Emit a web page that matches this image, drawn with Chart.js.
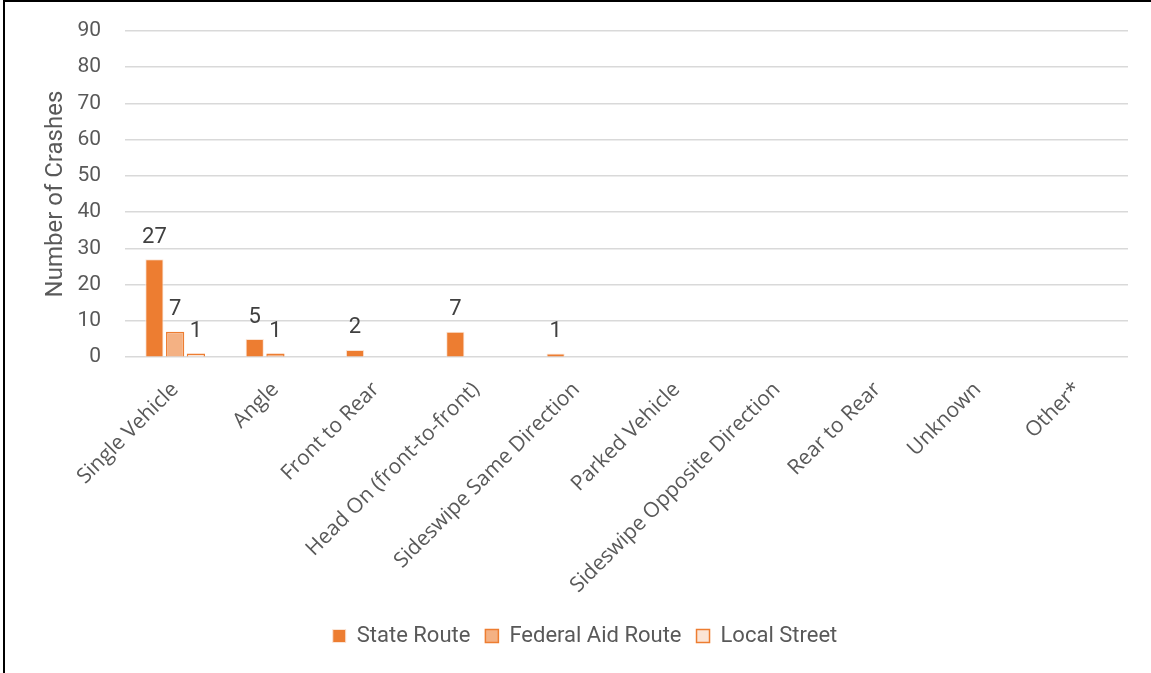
<!DOCTYPE html>
<html>
<head>
<meta charset="utf-8">
<script src="https://cdn.jsdelivr.net/npm/chart.js@4.4.0/dist/chart.umd.min.js"></script>
<style>
    html, body { margin: 0; padding: 0; background: #fff; }
    #frame {
        position: absolute; left: 3px; top: 0px; width: 1148px; height: 673px;
        border-left: 2px solid #000; border-top: 2px solid #000; box-sizing: border-box;
    }
    #wrap { position: absolute; left: 0; top: 0; width: 1146px; height: 671px; }
</style>
</head>
<body>
<div id="frame"><div id="wrap"><canvas id="chart"></canvas></div></div>
<script>
// Datos del gráfico
const categories = ['Single Vehicle', 'Angle', 'Front to Rear', 'Head On (front-to-front)',
    'Sideswipe Same Direction', 'Parked Vehicle', 'Sideswipe Opposite Direction',
    'Rear to Rear', 'Unknown', 'Other*'];
const stateRoute = [27, 5, 2, 7, 1, 0, 0, 0, 0, 0];
const federalAidRoute = [7, 1, 0, 0, 0, 0, 0, 0, 0, 0];
const localStreet = [1, 0, 0, 0, 0, 0, 0, 0, 0, 0];
const yTicks = [0, 10, 20, 30, 40, 50, 60, 70, 80, 90];

const narrow = 'Roboto, sans-serif';

// Etiquetas de valor encima de las barras
const valueLabels = {
    id: 'valueLabels',
    afterDatasetsDraw(chart) {
        const ctx = chart.ctx;
        ctx.save();
        ctx.font = '22px ' + narrow;
        ctx.fillStyle = '#404040';
        ctx.textAlign = 'center';
        ctx.textBaseline = 'bottom';
        chart.data.datasets.forEach((ds, i) => {
            const meta = chart.getDatasetMeta(i);
            meta.data.forEach((bar, j) => {
                const v = ds.data[j];
                if (!v) return;
                ctx.fillText(String(v), bar.x, bar.y - 11);
            });
        });
        ctx.restore();
    }
};

const ctx = document.getElementById('chart').getContext('2d');
new Chart(ctx, {
    type: 'bar',
    data: {
        labels: categories,
        datasets: [
            {
                label: 'State Route',
                data: stateRoute,
                backgroundColor: '#ED7D31',
                borderColor: '#FBE5D6',
                borderWidth: 1,
                categoryPercentage: 0.62,
                barPercentage: 0.88
            },
            {
                label: 'Federal Aid Route',
                data: federalAidRoute,
                backgroundColor: '#F4B183',
                borderColor: '#ED7D31',
                borderWidth: 1.5,
                categoryPercentage: 0.62,
                barPercentage: 0.88
            },
            {
                label: 'Local Street',
                data: localStreet,
                backgroundColor: '#FBE5D6',
                borderColor: '#ED7D31',
                borderWidth: 1.5,
                categoryPercentage: 0.62,
                barPercentage: 0.88
            }
        ]
    },
    options: {
        responsive: true,
        maintainAspectRatio: false,
        animation: false,
        layout: { padding: { left: 37, right: 23, top: 29, bottom: 16 } },
        plugins: {
            legend: {
                position: 'bottom',
                labels: {
                    color: '#595959',
                    font: { size: 22, family: narrow },
                    boxWidth: 13,
                    boxHeight: 13,
                    padding: 15
                }
            },
            tooltip: { enabled: false }
        },
        scales: {
            y: {
                min: 0,
                max: 90,
                afterBuildTicks(axis) { axis.ticks = yTicks.map(v => ({ value: v })); },
                afterFit(axis) { axis.width = 83; axis.paddingTop = 0; axis.paddingBottom = 0; },
                grid: { color: '#d9d9d9', lineWidth: 1.5, drawTicks: false },
                border: { display: false },
                ticks: { color: '#595959', font: { size: 21, family: narrow }, padding: 24 },
                title: {
                    display: true,
                    text: 'Number of Crashes',
                    color: '#595959',
                    font: { size: 24, family: narrow },
                    padding: { top: 0, bottom: 8 }
                }
            },
            x: {
                grid: { display: false },
                border: { display: false },
                afterFit(scale) { scale.paddingLeft = 0; scale.paddingRight = 0; },
                ticks: {
                    color: '#595959',
                    font: { size: 21, family: '"Open Sans", sans-serif' },
                    minRotation: 45,
                    maxRotation: 45,
                    padding: 12
                }
            }
        }
    },
    plugins: [valueLabels]
});
</script>
</body>
</html>
